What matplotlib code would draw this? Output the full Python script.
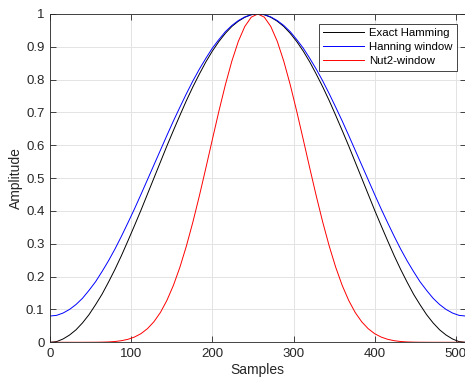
import numpy as np
import matplotlib
matplotlib.use("Agg")
import matplotlib.pyplot as plt

plt.rcParams['font.family'] = ['Liberation Sans', 'DejaVu Sans']

# sample positions (every 8th sample)
samples = np.arange(0, 513, 8)

exact_hamming_half = [0.000, 0.002, 0.010, 0.022, 0.038, 0.059, 0.084, 0.114,
                      0.146, 0.183, 0.222, 0.264, 0.309, 0.355, 0.402, 0.451,
                      0.500, 0.549, 0.598, 0.645, 0.691, 0.736, 0.778, 0.817,
                      0.854, 0.887, 0.916, 0.941, 0.962, 0.978, 0.990, 0.998]
exact_hamming = exact_hamming_half + [1.000] + exact_hamming_half[::-1]

hanning_half = [0.080, 0.082, 0.089, 0.100, 0.115, 0.134, 0.158, 0.184,
                0.215, 0.248, 0.284, 0.323, 0.364, 0.406, 0.450, 0.495,
                0.540, 0.585, 0.630, 0.674, 0.716, 0.757, 0.796, 0.832,
                0.865, 0.896, 0.922, 0.946, 0.965, 0.980, 0.991, 0.998]
hanning_window = hanning_half + [1.000] + hanning_half[::-1]

nut2_half = [0.0000, 0.0000, 0.0000, 0.0000, 0.0000, 0.0000, 0.0001, 0.0002,
             0.0005, 0.0011, 0.0024, 0.0049, 0.0091, 0.0159, 0.0262, 0.0414,
             0.0625, 0.0908, 0.1275, 0.1732, 0.2284, 0.2930, 0.3660, 0.4460,
             0.5308, 0.6176, 0.7032, 0.7839, 0.8562, 0.9166, 0.9621, 0.9904]
nut2_window = nut2_half + [1.0000] + nut2_half[::-1]

series_labels = ['Exact Hamming', 'Hanning window', 'Nut2-window']
x_ticks = [0, 100, 200, 300, 400, 500]
y_ticks = [0, 0.1, 0.2, 0.3, 0.4, 0.5, 0.6, 0.7, 0.8, 0.9, 1]
y_tick_labels = ['0', '0.1', '0.2', '0.3', '0.4', '0.5', '0.6', '0.7', '0.8', '0.9', '1']

fig = plt.figure(figsize=(4.65, 3.83), dpi=100)
ax = fig.add_axes([50/465, 1 - 342.3/383, 415.6/465, 328.3/383])

lw = 0.7
ax.plot(samples, exact_hamming, color='black', lw=lw, label=series_labels[0])
ax.plot(samples, hanning_window, color='blue', lw=lw, label=series_labels[1])
ax.plot(samples, nut2_window, color='red', lw=lw, label=series_labels[2])

ax.set_xlim(0, 512)
ax.set_ylim(0, 1)
ax.set_xticks(x_ticks)
ax.set_yticks(y_ticks)
ax.set_yticklabels(y_tick_labels)
ax.grid(True, color='#e3e3e3', lw=0.7)
ax.set_axisbelow(True)
spine_c = '#262626'
for s in ax.spines.values():
    s.set_color(spine_c)
    s.set_linewidth(0.6)
ax.tick_params(direction='in', length=4, width=0.6, colors=spine_c,
               labelsize=9.5, top=True, right=True, pad=4)
ax.set_xlabel('Samples', fontsize=10, color=spine_c, labelpad=2)
ax.set_ylabel('Amplitude', fontsize=10, color=spine_c, labelpad=2)

leg = ax.legend(loc='upper right', bbox_to_anchor=(0.979, 0.970), borderaxespad=0,
                fontsize=8.2, handlelength=3.6, labelspacing=0.35, handletextpad=0.4,
                borderpad=0.4, fancybox=False, framealpha=1, edgecolor=spine_c)
leg.get_frame().set_linewidth(0.6)

fig.savefig('out.png', dpi=100)
